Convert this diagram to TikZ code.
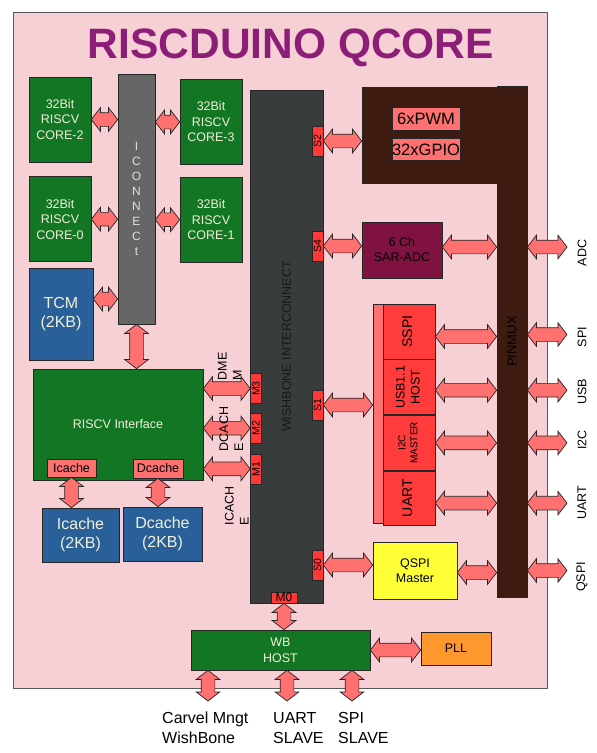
\documentclass[tikz,border=0pt]{standalone}
\usepackage{fontspec}
\setmainfont{Liberation Sans}
\usepackage{graphicx}
\usepackage{xcolor}
\usepackage{tikz}
\usetikzlibrary{shapes.arrows, calc, positioning}

\definecolor{bgpink}{HTML}{F7D0D6}
\definecolor{titlepurple}{HTML}{8D1E77}
\definecolor{coregreen}{HTML}{137624}
\definecolor{memblue}{HTML}{2A6099}
\definecolor{icongray}{HTML}{666666}
\definecolor{wbdark}{HTML}{383C3C}
\definecolor{tabred}{HTML}{FF3838}
\definecolor{pinbrown}{HTML}{3E1B11}
\definecolor{adcmaroon}{HTML}{801241}
\definecolor{periphred}{HTML}{FF3B3B}
\definecolor{arrowred}{HTML}{FF7070}
\definecolor{qspiyellow}{HTML}{FFFF38}
\definecolor{pllorange}{HTML}{FF972F}
\definecolor{coretext}{HTML}{F0F0D6}

% rotated text, centred or left aligned
\newcommand{\vtext}[1]{\rotatebox{90}{\begin{tabular}{@{}c@{}}#1\end{tabular}}}
\newcommand{\vltext}[1]{\rotatebox{90}{\begin{tabular}{@{}l@{}}#1\end{tabular}}}
% fat double arrow between two points
\newcommand{\fatlink}[3][]{\path let \p1=#2, \p2=#3, \n1={veclen(\x2-\x1,\y2-\y1)} in
  node[biarrow,#1,minimum height=\n1] at ($(\p1)!0.5!(\p2)$) {};}

\begin{document}
\begin{tikzpicture}[
  x=1pt, y=-1pt,
  blk/.style={draw=black!85, line width=0.7pt, inner sep=0pt, align=center},
  core/.style={blk, fill=coregreen, text=coretext, minimum width=62pt, minimum height=85pt,
               font=\fontsize{12.5}{15.5}\selectfont},
  mem/.style={blk, fill=memblue, text=coretext, font=\fontsize{16}{19}\selectfont},
  cachetag/.style={blk, fill=arrowred, font=\fontsize{12.5}{14}\selectfont},
  tab/.style={blk, fill=tabred, minimum width=11pt, minimum height=30pt,
              font=\fontsize{10.5}{12}\selectfont},
  periph/.style={blk, fill=periphred, minimum width=52pt, minimum height=55pt},
  small/.style={font=\fontsize{12.5}{15}\selectfont},
  biarrow/.style={double arrow, draw=black!85, fill=arrowred, line width=0.7pt, inner sep=0pt,
                  text height=6.5pt, text depth=6.5pt, minimum width=23pt,
                  double arrow head extend=5pt, double arrow tip angle=105},
  pinlbl/.style={inner sep=0pt, font=\fontsize{12.5}{14}\selectfont},
  outlbl/.style={inner sep=0pt, align=left, font=\fontsize{16}{20}\selectfont}
]
\useasboundingbox (0,0) rectangle (597,753);

% board
\node[draw=black!65, line width=0.8pt, fill=bgpink, minimum width=534pt, minimum height=676pt,
      inner sep=0pt] (board) at (280,350) {};
\node[anchor=base, text=titlepurple, font=\fontsize{42.5}{48}\selectfont\bfseries] (title)
      at (291,58) {RISCDUINO QCORE};

% cores and iconnect
\node[core] (core2) at (60,119.5) {32Bit\\RISCV\\CORE-2};
\node[core, below=14pt of core2] (core0) {32Bit\\RISCV\\CORE-0};
\node[core] (core3) at (211,122) {32Bit\\RISCV\\CORE-3};
\node[core, below=12pt of core3] (core1) {32Bit\\RISCV\\CORE-1};
\node[blk, fill=icongray, text=black!12, minimum width=37pt, minimum height=250pt,
      font=\fontsize{12}{15.1}\selectfont] (icon) at (136.5,199) {I\\C\\O\\N\\N\\E\\C\\t};
\node[mem, minimum width=64pt, minimum height=92pt] (tcm) at (61,314) {TCM\\(2KB)};

% riscv interface and caches
\node[blk, fill=coregreen, text=coretext, minimum width=170pt, minimum height=111pt,
      font=\fontsize{12.5}{15}\selectfont] (riscv) at (118,424.5) {RISCV Interface};
\node[cachetag, minimum width=49pt, minimum height=18pt] (icsmall) at (71.5,468) {Icache};
\node[cachetag, minimum width=50pt, minimum height=19pt] (dcsmall) at (158,468.5) {Dcache};
\node[mem, minimum width=77pt, minimum height=54pt, font=\fontsize{16}{18.5}\selectfont]
      (icbig) at (80.5,535) {Icache\\(2KB)};
\node[mem, minimum width=79pt, minimum height=54pt, font=\fontsize{16}{18.5}\selectfont]
      (dcbig) at (162.5,534) {Dcache\\(2KB)};

% wishbone interconnect with master and slave ports
\node[blk, fill=wbdark, text=black!90, minimum width=73pt, minimum height=513pt,
      font=\fontsize{12.5}{14}\selectfont] (wbic) at (286.5,346.5) {\rotatebox{90}{WISHBONE INTERCONNECT}};
\node[tab] (m3) at (256,388.5) {\rotatebox{90}{M3}};
\node[tab, below=9pt of m3] (m2) {\rotatebox{90}{M2}};
\node[tab, below=10pt of m2] (m1) {\rotatebox{90}{M1}};
\node[tab, minimum width=26pt, minimum height=11pt, font=\fontsize{12}{12}\selectfont]
      (m0) at (284,597.5) {M0};
\node[tab] (s2) at (317.5,141) {\rotatebox{90}{S2}};
\node[tab] (s4) at (317.5,246) {\rotatebox{90}{S4}};
\node[tab] (s1) at (317.5,405) {\rotatebox{90}{S1}};
\node[tab] (s0) at (317.5,565) {\rotatebox{90}{S0}};

% peripherals
\node[blk, fill=pinbrown, minimum width=135pt, minimum height=96pt] (pwmbox) at (429.5,135) {};
\node[blk, fill=arrowred, minimum width=68pt, minimum height=23pt, font=\fontsize{16.5}{18}\selectfont]
      (pwm) at (426,118.5) {6xPWM};
\node[blk, fill=arrowred, minimum width=68pt, minimum height=22pt, font=\fontsize{16.5}{18}\selectfont,
      below=8pt of pwm] (gpio) {32xGPIO};
\node[blk, fill=pinbrown, text=black, minimum width=30pt, minimum height=511pt,
      font=\fontsize{13}{14}\selectfont] (pinmux) at (512,341.5) {\rotatebox{90}{PINMUX}};
\node[blk, fill=adcmaroon, minimum width=80pt, minimum height=56pt, small] (adc) at (402,250)
      {6 Ch\\SAR-ADC};
\node[blk, fill=arrowred, minimum width=10pt, minimum height=219pt] (strip) at (378,413.5) {};
\node[periph, font=\fontsize{14}{16}\selectfont] (sspi) at (409,331.5) {\vtext{SSPI}};
\node[periph, below=0pt of sspi, font=\fontsize{12.5}{15}\selectfont] (usb) {\vtext{USB1.1\\HOST}};
\node[periph, below=0pt of usb, font=\fontsize{10}{12}\selectfont] (i2c) {\vtext{I2C\\MASTER}};
\node[periph, below=0pt of i2c, minimum height=54pt, font=\fontsize{14}{16}\selectfont] (uart) {\vtext{UART}};
\node[blk, fill=qspiyellow, minimum width=84pt, minimum height=57pt, small] (qspi) at (415,570.5)
      {QSPI\\Master};

% host side
\node[blk, fill=coregreen, text=coretext, minimum width=179pt, minimum height=40pt,
      font=\fontsize{12.5}{16}\selectfont] (host) at (280.5,650) {WB\\HOST};
\node[blk, fill=pllorange, minimum width=70pt, minimum height=33pt, small] (pll) at (456,648.5) {PLL};

% free ends
\coordinate (padx) at (567,0);
\coordinate (padcarvel) at (208,701);
\coordinate (paduart) at (287,701);
\coordinate (padspi) at (352,701);

% links
\fatlink{(core2.east)}{(core2.east -| icon.west)}
\fatlink{(core0.east)}{(core0.east -| icon.west)}
\fatlink{(core3.west)}{(core3.west -| icon.east)}
\fatlink{(core1.west)}{(core1.west -| icon.east)}
\fatlink{([yshift=15pt]tcm.east)}{([yshift=15pt]tcm.east -| icon.west)}
\fatlink[rotate=90]{(icon.south)}{(icon.south |- riscv.north)}
\fatlink[rotate=90]{(icsmall.south)}{(icsmall.south |- icbig.north)}
\fatlink[rotate=90]{(dcsmall.south)}{(dcsmall.south |- dcbig.north)}
\fatlink{(m3.west)}{(m3.west -| riscv.east)}
\fatlink{(m2.west)}{(m2.west -| riscv.east)}
\fatlink{(m1.west)}{(m1.west -| riscv.east)}
\fatlink{(s2.east)}{(s2.east -| pwmbox.west)}
\fatlink{(s4.east)}{(s4.east -| adc.west)}
\fatlink{(s1.east)}{(s1.east -| strip.west)}
\fatlink{(s0.east)}{(s0.east -| qspi.west)}
\fatlink{([yshift=3pt]adc.east)}{([yshift=3pt]adc.east -| pinmux.west)}
\fatlink{([yshift=-5pt]sspi.east)}{([yshift=-5pt]sspi.east -| pinmux.west)}
\fatlink{([yshift=-3pt]usb.east)}{([yshift=-3pt]usb.east -| pinmux.west)}
\fatlink{(i2c.east)}{(i2c.east -| pinmux.west)}
\fatlink{([yshift=-5pt]uart.east)}{([yshift=-5pt]uart.east -| pinmux.west)}
\fatlink{([yshift=-2pt]qspi.east)}{([yshift=-2pt]qspi.east -| pinmux.west)}
\fatlink{([yshift=3pt]pinmux.east |- adc.east)}{([yshift=3pt]padx |- adc.east)}
\fatlink{([yshift=-3pt]pinmux.east |- sspi.east)}{([yshift=-3pt]padx |- sspi.east)}
\fatlink{([yshift=-3pt]pinmux.east |- usb.east)}{([yshift=-3pt]padx |- usb.east)}
\fatlink{(pinmux.east |- i2c.east)}{(padx |- i2c.east)}
\fatlink{([yshift=-5pt]pinmux.east |- uart.east)}{([yshift=-5pt]padx |- uart.east)}
\fatlink{(pinmux.east |- qspi.east)}{(padx |- qspi.east)}
\fatlink[rotate=90]{(m0.south)}{(m0.south |- host.north)}
\fatlink{(host.east)}{(host.east -| pll.west)}
\fatlink[rotate=90]{(host.south -| padcarvel)}{(padcarvel)}
\fatlink[rotate=90]{(host.south -| paduart)}{(paduart)}
\fatlink[rotate=90]{(host.south -| padspi)}{(padspi)}

% bus names
\node[inner sep=0pt, small] (dmem) at (231,366.5) {\vltext{DME\\M}};
\node[inner sep=0pt, small] (dcache) at (232.5,429) {\vltext{DCACH\\E}};
\node[inner sep=0pt, small] (icache) at (238,506) {\vltext{ICACH\\E}};

% pin names
\node[pinlbl] (lbladc) at (582,253) {\rotatebox{90}{ADC}};
\node[pinlbl] (lblspi) at (582,337) {\rotatebox{90}{SPI}};
\node[pinlbl] (lblusb) at (582,392) {\rotatebox{90}{USB}};
\node[pinlbl] (lbli2c) at (582,440) {\rotatebox{90}{I2C}};
\node[pinlbl] (lbluart) at (582,503) {\rotatebox{90}{UART}};
\node[pinlbl] (lblqspi) at (582,577) {\rotatebox{90}{QSPI}};

\node[outlbl, anchor=north west] (lblcarvel) at (162,712) {Carvel Mngt\\WishBone};
\node[outlbl, anchor=north west] (lbluslave) at (273,712) {UART\\SLAVE};
\node[outlbl, anchor=north west] (lblsslave) at (338,712) {SPI\\SLAVE};
\end{tikzpicture}
\end{document}
